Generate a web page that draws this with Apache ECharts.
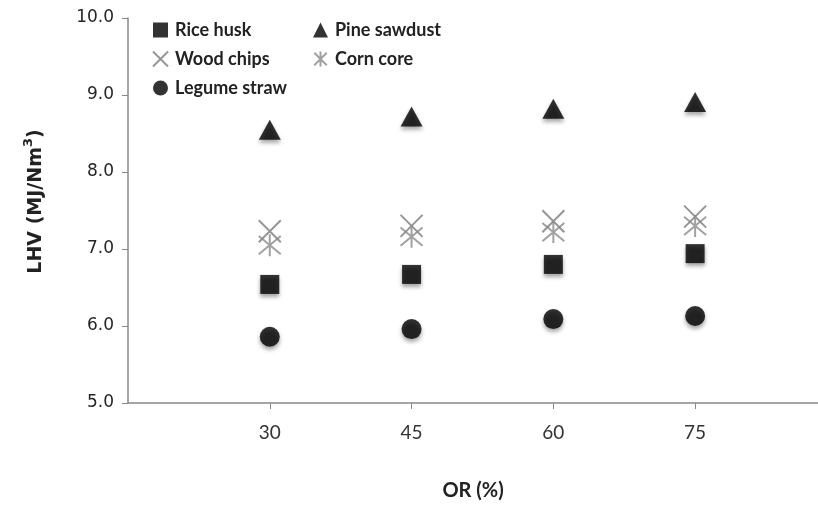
<!DOCTYPE html>
<html>
<head>
<meta charset="utf-8">
<script src="https://cdn.jsdelivr.net/npm/echarts@6/dist/echarts.min.js"></script>
<style>
  html, body { margin: 0; padding: 0; background: #fff; }
  #chart { width: 818px; height: 506px; }
</style>
</head>
<body>
<div id="chart"></div>
<script>
// OR (%) on the x axis
const orValues = [30, 45, 60, 75]
// LHV (MJ/Nm3) per feedstock
const riceHusk = [6.54, 6.67, 6.80, 6.94]
const pineSawdust = [8.55, 8.72, 8.82, 8.91]
const woodChips = [7.23, 7.30, 7.36, 7.42]
const cornCore = [7.05, 7.16, 7.22, 7.30]
const legumeStraw = [5.86, 5.96, 6.09, 6.13]
const xTickLabels = [30, 45, 60, 75]

const crossPath = 'path://M0,0 L20,20 M20,0 L0,20'
const starPath = 'path://M0,0 L20,20 M20,0 L0,20 M10,-2 L10,22'

const pairs = (ys) => orValues.map((x, i) => [x, ys[i]])

const shadow = {
    shadowColor: 'rgba(0,0,0,0.45)',
    shadowBlur: 4,
    shadowOffsetY: 3
}

const myChart = echarts.init(document.getElementById('chart'))

const legendText = {
    fontFamily: 'Lato',
    fontSize: 18,
    fontWeight: 'bold',
    color: '#222',
    padding: [0, 0, 0, 2]
}

const option = {
    animation: false,
    backgroundColor: '#fff',
    legend: [
        {
            data: ['Rice husk', 'Wood chips', 'Legume straw'],
            orient: 'vertical',
            left: 147,
            top: 16,
            itemWidth: 15,
            itemHeight: 15,
            itemGap: 11,
            textStyle: legendText,
            itemStyle: { shadowBlur: 0, shadowOffsetY: 0 }
        },
        {
            data: ['Pine sawdust', 'Corn core'],
            orient: 'vertical',
            left: 308,
            top: 16,
            itemWidth: 15,
            itemHeight: 15,
            itemGap: 11,
            textStyle: legendText,
            itemStyle: { shadowBlur: 0, shadowOffsetY: 0 }
        }
    ],
    grid: {
        left: 128,
        right: 0,
        top: 18,
        bottom: 102,
        containLabel: false
    },
    xAxis: {
        type: 'value',
        min: 15,
        max: 88,
        name: 'OR (%)',
        nameLocation: 'middle',
        nameGap: 78,
        nameTextStyle: {
            fontFamily: 'Lato',
            fontSize: 20,
            fontWeight: 'bold',
            color: '#222'
        },
        splitLine: { show: false },
        axisLine: { lineStyle: { color: '#888', width: 1.5 } },
        axisTick: {
            customValues: xTickLabels,
            length: 6,
            lineStyle: { color: '#888' }
        },
        axisLabel: {
            customValues: xTickLabels,
            margin: 20,
            fontFamily: 'Lato',
            fontSize: 19,
            color: '#333'
        }
    },
    yAxis: {
        type: 'value',
        min: 5,
        max: 10,
        interval: 1,
        name: '{a|LHV (MJ/Nm}{s|3}{a|)}',
        nameLocation: 'middle',
        nameGap: 78,
        nameRotate: 90,
        nameTextStyle: {
            padding: [0, 0, 0, 18],
            rich: {
                a: {
                    fontFamily: 'DejaVu Sans',
                    fontSize: 19,
                    fontWeight: 'bold',
                    color: '#222',
                    lineHeight: 28
                },
                s: {
                    fontFamily: 'DejaVu Sans',
                    fontSize: 13,
                    fontWeight: 'bold',
                    color: '#222',
                    verticalAlign: 'top',
                    lineHeight: 14
                }
            }
        },
        splitLine: { show: false },
        axisLine: { show: true, lineStyle: { color: '#888', width: 1.5 } },
        axisTick: { show: true, length: 6, lineStyle: { color: '#888' } },
        axisLabel: {
            margin: 14,
            fontFamily: 'DejaVu Sans',
            fontSize: 17,
            color: '#262626',
            formatter: (v) => v.toFixed(1)
        }
    },
    series: [
        {
            name: 'Rice husk',
            type: 'scatter',
            symbol: 'rect',
            symbolSize: 19,
            itemStyle: Object.assign({ color: '#000' }, shadow),
            data: pairs(riceHusk)
        },
        {
            name: 'Pine sawdust',
            type: 'scatter',
            symbol: 'triangle',
            symbolSize: [22, 20],
            itemStyle: Object.assign({ color: '#000' }, shadow),
            data: pairs(pineSawdust)
        },
        {
            name: 'Wood chips',
            type: 'scatter',
            symbol: crossPath,
            symbolSize: 22,
            itemStyle: { color: 'rgba(0,0,0,0)', borderColor: '#7a7a7a', borderWidth: 2 },
            data: pairs(woodChips)
        },
        {
            name: 'Corn core',
            type: 'scatter',
            symbol: starPath,
            symbolSize: 22,
            itemStyle: { color: 'rgba(0,0,0,0)', borderColor: '#8a8a8a', borderWidth: 2 },
            data: pairs(cornCore)
        },
        {
            name: 'Legume straw',
            type: 'scatter',
            symbol: 'circle',
            symbolSize: 20,
            itemStyle: Object.assign({ color: '#000' }, shadow),
            data: pairs(legumeStraw)
        }
    ]
}

option && myChart.setOption(option)
</script>
</body>
</html>
